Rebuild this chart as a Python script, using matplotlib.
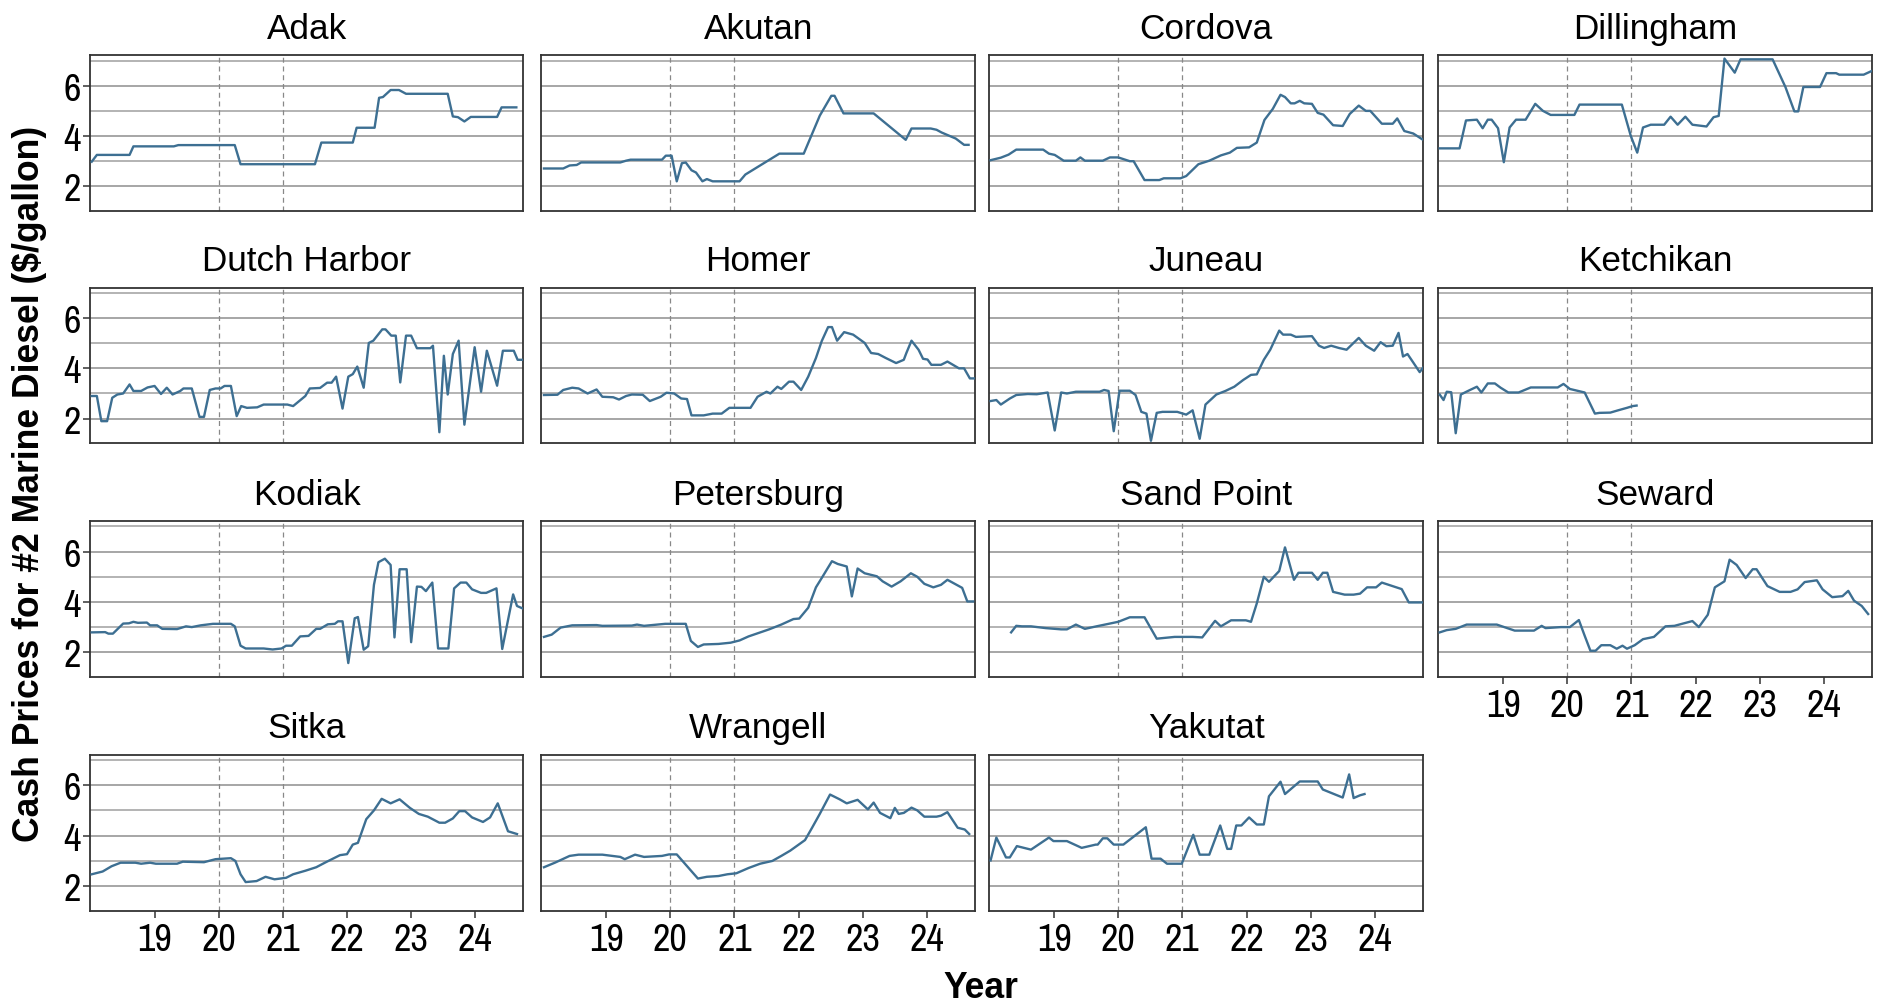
import matplotlib
matplotlib.use("Agg")
import matplotlib.pyplot as plt
from matplotlib import font_manager as fm

# ---------------- data (year, price $/gal) ----------------
adak = [(2018.02, 2.98), (2018.10, 3.25), (2018.61, 3.25), (2018.67, 3.59), (2019.30, 3.59), (2019.37, 3.64),
        (2020.25, 3.64), (2020.34, 2.88), (2021.50, 2.88), (2021.60, 3.74), (2022.09, 3.74), (2022.15, 4.33),
        (2022.43, 4.33), (2022.50, 5.52), (2022.56, 5.55), (2022.68, 5.83), (2022.81, 5.83), (2022.92, 5.68),
        (2023.57, 5.68), (2023.65, 4.78), (2023.73, 4.75), (2023.83, 4.58), (2023.93, 4.76), (2024.34, 4.76),
        (2024.41, 5.14), (2024.64, 5.14)]
akutan = [(2018.03, 2.71), (2018.33, 2.71), (2018.43, 2.83), (2018.54, 2.85), (2018.61, 2.95), (2019.22, 2.95),
          (2019.31, 3.02), (2019.38, 3.06), (2019.87, 3.06), (2019.93, 3.22), (2020.02, 3.22), (2020.10, 2.20),
          (2020.18, 2.92), (2020.24, 2.95), (2020.33, 2.64), (2020.40, 2.55), (2020.50, 2.20), (2020.57, 2.29),
          (2020.66, 2.20), (2021.08, 2.20), (2021.17, 2.47), (2021.70, 3.30), (2022.08, 3.30), (2022.33, 4.81),
          (2022.51, 5.60), (2022.56, 5.60), (2022.70, 4.90), (2023.17, 4.90), (2023.67, 3.85), (2023.76, 4.30),
          (2024.06, 4.30), (2024.15, 4.25), (2024.23, 4.14), (2024.45, 3.90), (2024.58, 3.65), (2024.65, 3.65)]
cordova = [(2018.01, 3.04), (2018.17, 3.14), (2018.29, 3.26), (2018.41, 3.46), (2018.83, 3.46), (2018.92, 3.30),
           (2019.01, 3.25), (2019.15, 3.02), (2019.34, 3.02), (2019.41, 3.15), (2019.48, 3.02), (2019.76, 3.02),
           (2019.87, 3.15), (2020.00, 3.15), (2020.18, 3.00), (2020.24, 3.00), (2020.41, 2.25), (2020.64, 2.25),
           (2020.71, 2.32), (2020.97, 2.32), (2021.06, 2.41), (2021.25, 2.88), (2021.42, 3.02), (2021.60, 3.23),
           (2021.74, 3.34), (2021.85, 3.53), (2022.04, 3.55), (2022.16, 3.74), (2022.28, 4.64), (2022.41, 5.08),
           (2022.53, 5.64), (2022.60, 5.55), (2022.69, 5.30), (2022.75, 5.30), (2022.83, 5.40), (2022.90, 5.30),
           (2023.02, 5.28), (2023.11, 4.92), (2023.20, 4.85), (2023.35, 4.43), (2023.50, 4.40), (2023.61, 4.88),
           (2023.75, 5.21), (2023.86, 5.00), (2023.93, 5.00), (2024.11, 4.49), (2024.28, 4.49), (2024.35, 4.70),
           (2024.46, 4.20), (2024.60, 4.10), (2024.74, 3.87)]
dillingham = [(2018.01, 3.51), (2018.32, 3.51), (2018.42, 4.62), (2018.59, 4.65), (2018.68, 4.31), (2018.76, 4.65),
              (2018.82, 4.65), (2018.92, 4.31), (2019.01, 2.96), (2019.10, 4.34), (2019.20, 4.65), (2019.35, 4.65),
              (2019.50, 5.28), (2019.62, 5.00), (2019.74, 4.84), (2020.11, 4.84), (2020.19, 5.25), (2020.85, 5.25),
              (2020.99, 4.00), (2021.09, 3.34), (2021.18, 4.34), (2021.30, 4.45), (2021.51, 4.45), (2021.61, 4.77),
              (2021.72, 4.45), (2021.84, 4.77), (2021.95, 4.45), (2022.17, 4.38), (2022.28, 4.75), (2022.36, 4.80),
              (2022.45, 7.08), (2022.61, 6.52), (2022.70, 7.05), (2023.20, 7.05), (2023.40, 5.95), (2023.54, 4.98),
              (2023.60, 4.98), (2023.68, 5.95), (2023.94, 5.95), (2024.04, 6.50), (2024.19, 6.50), (2024.24, 6.44),
              (2024.62, 6.44), (2024.74, 6.58)]
dutch_harbor = [(2018.02, 2.90), (2018.10, 2.90), (2018.17, 1.90), (2018.26, 1.90), (2018.34, 2.83), (2018.42, 2.96),
                (2018.51, 3.00), (2018.61, 3.36), (2018.67, 3.10), (2018.79, 3.10), (2018.89, 3.24), (2019.00, 3.30),
                (2019.10, 2.98), (2019.19, 3.23), (2019.28, 2.96), (2019.40, 3.10), (2019.45, 3.20), (2019.58, 3.20),
                (2019.70, 2.07), (2019.77, 2.07), (2019.86, 3.14), (2019.95, 3.20), (2020.03, 3.20), (2020.09, 3.30),
                (2020.19, 3.30), (2020.28, 2.10), (2020.35, 2.50), (2020.44, 2.43), (2020.60, 2.45), (2020.70, 2.56),
                (2021.07, 2.56), (2021.16, 2.50), (2021.35, 2.90), (2021.42, 3.20), (2021.58, 3.22), (2021.69, 3.43),
                (2021.76, 3.43), (2021.83, 3.67), (2021.93, 2.40), (2022.02, 3.67), (2022.09, 3.77), (2022.16, 4.07),
                (2022.26, 3.23), (2022.34, 5.01), (2022.41, 5.10), (2022.55, 5.55), (2022.60, 5.55), (2022.69, 5.30),
                (2022.76, 5.30), (2022.83, 3.44), (2022.92, 5.30), (2023.00, 5.30), (2023.09, 4.80), (2023.30, 4.80),
                (2023.34, 4.90), (2023.44, 1.46), (2023.51, 4.50), (2023.57, 2.96), (2023.65, 4.57), (2023.74, 5.10),
                (2023.83, 1.76), (2023.99, 4.84), (2024.09, 3.07), (2024.18, 4.70), (2024.34, 3.31), (2024.43, 4.70),
                (2024.60, 4.70), (2024.66, 4.34), (2024.74, 4.34)]
homer = [(2018.03, 2.94), (2018.24, 2.95), (2018.33, 3.14), (2018.47, 3.23), (2018.57, 3.20), (2018.71, 3.00),
         (2018.85, 3.16), (2018.94, 2.87), (2019.11, 2.85), (2019.20, 2.76), (2019.31, 2.90), (2019.40, 2.96),
         (2019.57, 2.95), (2019.68, 2.70), (2019.85, 2.87), (2019.94, 3.03), (2020.06, 3.00), (2020.17, 2.80),
         (2020.26, 2.78), (2020.33, 2.13), (2020.52, 2.13), (2020.66, 2.20), (2020.80, 2.20), (2020.92, 2.43),
         (2021.25, 2.43), (2021.36, 2.87), (2021.50, 3.07), (2021.56, 3.00), (2021.67, 3.27), (2021.73, 3.18),
         (2021.85, 3.47), (2021.92, 3.47), (2022.04, 3.14), (2022.15, 3.67), (2022.27, 4.41), (2022.36, 5.08),
         (2022.46, 5.64), (2022.52, 5.64), (2022.60, 5.10), (2022.71, 5.44), (2022.85, 5.34), (2023.03, 5.01),
         (2023.13, 4.61), (2023.24, 4.57), (2023.36, 4.41), (2023.52, 4.21), (2023.64, 4.34), (2023.68, 4.61),
         (2023.76, 5.10), (2023.87, 4.74), (2023.94, 4.38), (2024.01, 4.35), (2024.07, 4.14), (2024.22, 4.14),
         (2024.32, 4.27), (2024.50, 4.00), (2024.58, 4.00), (2024.67, 3.60), (2024.74, 3.60)]
juneau = [(2018.01, 2.70), (2018.10, 2.74), (2018.17, 2.56), (2018.31, 2.80), (2018.41, 2.94), (2018.59, 2.98),
          (2018.73, 2.97), (2018.90, 3.04), (2019.01, 1.53), (2019.11, 3.04), (2019.20, 3.00), (2019.34, 3.07),
          (2019.71, 3.07), (2019.78, 3.14), (2019.85, 3.10), (2019.93, 1.50), (2020.02, 3.11), (2020.18, 3.11),
          (2020.27, 2.94), (2020.36, 2.27), (2020.44, 2.20), (2020.51, 1.12), (2020.60, 2.23), (2020.69, 2.27),
          (2020.92, 2.27), (2021.06, 2.16), (2021.16, 2.33), (2021.27, 1.20), (2021.36, 2.56), (2021.53, 2.96),
          (2021.67, 3.10), (2021.81, 3.27), (2021.95, 3.54), (2022.07, 3.74), (2022.16, 3.76), (2022.27, 4.34),
          (2022.37, 4.74), (2022.51, 5.50), (2022.57, 5.34), (2022.69, 5.34), (2022.77, 5.25), (2023.02, 5.28),
          (2023.13, 4.90), (2023.21, 4.81), (2023.32, 4.90), (2023.44, 4.81), (2023.56, 4.74), (2023.75, 5.21),
          (2023.86, 4.90), (2023.99, 4.70), (2024.09, 5.04), (2024.18, 4.88), (2024.28, 4.90), (2024.37, 5.41),
          (2024.44, 4.47), (2024.51, 4.57), (2024.60, 4.23), (2024.70, 3.85), (2024.76, 4.05)]
ketchikan = [(2018.01, 2.96), (2018.07, 2.74), (2018.12, 3.07), (2018.19, 3.05), (2018.26, 1.42), (2018.34, 2.96),
             (2018.45, 3.10), (2018.59, 3.27), (2018.66, 3.04), (2018.76, 3.40), (2018.87, 3.40), (2018.96, 3.23),
             (2019.08, 3.04), (2019.24, 3.04), (2019.43, 3.24), (2019.85, 3.24), (2019.94, 3.38), (2020.04, 3.18),
             (2020.27, 3.04), (2020.43, 2.20), (2020.50, 2.23), (2020.67, 2.24), (2020.79, 2.33), (2020.93, 2.43),
             (2021.02, 2.50), (2021.08, 2.52)]
kodiak = [(2018.02, 2.79), (2018.23, 2.80), (2018.28, 2.74), (2018.35, 2.74), (2018.51, 3.14), (2018.60, 3.15),
          (2018.67, 3.21), (2018.74, 3.17), (2018.88, 3.18), (2018.93, 3.07), (2019.04, 3.07), (2019.12, 2.93),
          (2019.35, 2.92), (2019.49, 3.03), (2019.58, 3.00), (2019.72, 3.07), (2019.91, 3.13), (2020.19, 3.13),
          (2020.25, 3.03), (2020.34, 2.26), (2020.42, 2.15), (2020.70, 2.15), (2020.84, 2.11), (2020.98, 2.15),
          (2021.05, 2.26), (2021.14, 2.26), (2021.27, 2.63), (2021.40, 2.65), (2021.52, 2.93), (2021.58, 2.93),
          (2021.70, 3.11), (2021.81, 3.13), (2021.86, 3.23), (2021.93, 3.23), (2022.02, 1.57), (2022.12, 3.35),
          (2022.17, 3.40), (2022.26, 2.10), (2022.33, 2.24), (2022.42, 4.68), (2022.49, 5.58), (2022.59, 5.72),
          (2022.68, 5.47), (2022.74, 2.59), (2022.82, 5.30), (2022.93, 5.30), (2023.00, 2.40), (2023.09, 4.61),
          (2023.16, 4.60), (2023.23, 4.43), (2023.33, 4.77), (2023.42, 2.15), (2023.58, 2.15), (2023.67, 4.54),
          (2023.77, 4.77), (2023.86, 4.77), (2023.95, 4.50), (2024.09, 4.36), (2024.17, 4.36), (2024.33, 4.54),
          (2024.42, 2.13), (2024.59, 4.30), (2024.65, 3.84), (2024.74, 3.74)]
petersburg = [(2018.03, 2.61), (2018.15, 2.70), (2018.29, 2.98), (2018.47, 3.07), (2018.85, 3.08), (2018.94, 3.05),
              (2019.40, 3.06), (2019.48, 3.10), (2019.59, 3.05), (2019.92, 3.13), (2020.24, 3.13), (2020.32, 2.45),
              (2020.43, 2.21), (2020.52, 2.31), (2020.75, 2.33), (2020.94, 2.38), (2021.08, 2.47), (2021.22, 2.63),
              (2021.38, 2.77), (2021.54, 2.91), (2021.73, 3.10), (2021.92, 3.32), (2022.01, 3.34), (2022.15, 3.77),
              (2022.27, 4.58), (2022.36, 4.95), (2022.52, 5.62), (2022.61, 5.51), (2022.75, 5.41), (2022.83, 4.22),
              (2022.92, 5.33), (2023.03, 5.14), (2023.22, 5.02), (2023.31, 4.82), (2023.45, 4.61), (2023.59, 4.82),
              (2023.75, 5.14), (2023.85, 5.00), (2023.96, 4.72), (2024.10, 4.58), (2024.22, 4.68), (2024.32, 4.88),
              (2024.55, 4.56), (2024.63, 4.02), (2024.72, 4.02)]
sand_point = [(2018.33, 2.79), (2018.41, 3.05), (2018.50, 3.03), (2018.64, 3.03), (2018.87, 2.96), (2019.11, 2.91),
              (2019.20, 2.91), (2019.34, 3.10), (2019.48, 2.93), (2019.66, 3.03), (2019.85, 3.13), (2020.00, 3.21),
              (2020.18, 3.39), (2020.41, 3.39), (2020.60, 2.54), (2020.88, 2.61), (2021.16, 2.61), (2021.31, 2.59),
              (2021.51, 3.25), (2021.60, 3.03), (2021.76, 3.27), (2021.99, 3.27), (2022.07, 3.21), (2022.16, 3.94),
              (2022.27, 5.00), (2022.35, 4.80), (2022.51, 5.23), (2022.60, 6.17), (2022.74, 4.88), (2022.81, 5.16),
              (2023.02, 5.16), (2023.11, 4.88), (2023.19, 5.16), (2023.26, 5.16), (2023.35, 4.40), (2023.53, 4.29),
              (2023.67, 4.29), (2023.77, 4.33), (2023.88, 4.58), (2024.02, 4.58), (2024.11, 4.77), (2024.42, 4.51),
              (2024.53, 3.98), (2024.74, 3.98)]
seward = [(2018.01, 2.79), (2018.12, 2.88), (2018.26, 2.93), (2018.43, 3.10), (2018.90, 3.10), (2019.18, 2.86),
          (2019.48, 2.86), (2019.60, 3.05), (2019.66, 2.96), (2019.90, 3.00), (2020.04, 3.00), (2020.18, 3.28),
          (2020.27, 2.66), (2020.36, 2.06), (2020.44, 2.06), (2020.53, 2.28), (2020.67, 2.28), (2020.77, 2.14),
          (2020.86, 2.26), (2020.93, 2.14), (2021.05, 2.28), (2021.18, 2.52), (2021.35, 2.61), (2021.53, 3.03),
          (2021.67, 3.05), (2021.95, 3.24), (2022.05, 3.00), (2022.19, 3.49), (2022.30, 4.58), (2022.45, 4.82),
          (2022.53, 5.68), (2022.64, 5.47), (2022.78, 4.95), (2022.89, 5.30), (2022.95, 5.30), (2023.12, 4.63),
          (2023.31, 4.40), (2023.48, 4.40), (2023.59, 4.50), (2023.70, 4.79), (2023.89, 4.86), (2023.98, 4.50),
          (2024.13, 4.19), (2024.29, 4.23), (2024.38, 4.44), (2024.47, 4.05), (2024.59, 3.84), (2024.69, 3.52)]
sitka = [(2018.02, 2.46), (2018.19, 2.57), (2018.33, 2.78), (2018.47, 2.92), (2018.70, 2.92), (2018.79, 2.88),
         (2018.93, 2.92), (2019.02, 2.88), (2019.35, 2.88), (2019.44, 2.96), (2019.77, 2.94), (2019.95, 3.06),
         (2020.19, 3.10), (2020.26, 2.99), (2020.34, 2.46), (2020.42, 2.15), (2020.59, 2.19), (2020.73, 2.36),
         (2020.87, 2.26), (2021.05, 2.32), (2021.16, 2.46), (2021.35, 2.60), (2021.52, 2.74), (2021.67, 2.94),
         (2021.89, 3.22), (2022.00, 3.26), (2022.09, 3.64), (2022.17, 3.71), (2022.30, 4.65), (2022.42, 5.00),
         (2022.54, 5.46), (2022.68, 5.28), (2022.82, 5.44), (2022.98, 5.10), (2023.12, 4.86), (2023.26, 4.75),
         (2023.44, 4.51), (2023.53, 4.51), (2023.65, 4.68), (2023.75, 4.97), (2023.84, 4.97), (2023.95, 4.72),
         (2024.12, 4.54), (2024.23, 4.72), (2024.35, 5.28), (2024.51, 4.17), (2024.65, 4.06)]
wrangell = [(2018.03, 2.74), (2018.20, 2.92), (2018.43, 3.19), (2018.57, 3.24), (2018.94, 3.24), (2019.22, 3.15),
            (2019.29, 3.06), (2019.45, 3.24), (2019.59, 3.15), (2019.87, 3.19), (2019.98, 3.25), (2020.10, 3.25),
            (2020.43, 2.29), (2020.57, 2.36), (2020.75, 2.39), (2020.89, 2.46), (2021.03, 2.50), (2021.22, 2.71),
            (2021.40, 2.88), (2021.59, 2.99), (2021.73, 3.19), (2021.87, 3.40), (2022.10, 3.82), (2022.21, 4.31),
            (2022.33, 4.86), (2022.49, 5.63), (2022.64, 5.44), (2022.75, 5.28), (2022.92, 5.42), (2023.08, 5.04),
            (2023.17, 5.31), (2023.27, 4.90), (2023.43, 4.69), (2023.50, 5.10), (2023.56, 4.86), (2023.64, 4.90),
            (2023.76, 5.11), (2023.85, 5.00), (2023.96, 4.75), (2024.15, 4.75), (2024.22, 4.79), (2024.32, 4.93),
            (2024.48, 4.31), (2024.59, 4.24), (2024.66, 4.06)]
yakutat = [(2018.01, 3.01), (2018.10, 3.92), (2018.25, 3.13), (2018.31, 3.13), (2018.42, 3.58), (2018.64, 3.44),
           (2018.78, 3.68), (2018.92, 3.92), (2018.99, 3.78), (2019.20, 3.78), (2019.43, 3.51), (2019.65, 3.64),
           (2019.68, 3.64), (2019.76, 3.89), (2019.83, 3.89), (2019.93, 3.64), (2020.08, 3.64), (2020.43, 4.33),
           (2020.52, 3.08), (2020.66, 3.08), (2020.76, 2.88), (2020.99, 2.88), (2021.17, 4.03), (2021.27, 3.24),
           (2021.42, 3.24), (2021.59, 4.40), (2021.70, 3.47), (2021.76, 3.47), (2021.84, 4.40), (2021.92, 4.40),
           (2022.04, 4.72), (2022.16, 4.44), (2022.27, 4.44), (2022.35, 5.56), (2022.53, 6.14), (2022.60, 5.65),
           (2022.83, 6.15), (2023.11, 6.15), (2023.19, 5.83), (2023.50, 5.51), (2023.60, 6.43), (2023.67, 5.49),
           (2023.77, 5.60), (2023.84, 5.65)]

ports = ["Adak", "Akutan", "Cordova", "Dillingham", "Dutch Harbor", "Homer", "Juneau", "Ketchikan",
         "Kodiak", "Petersburg", "Sand Point", "Seward", "Sitka", "Wrangell", "Yakutat"]
series = [adak, akutan, cordova, dillingham, dutch_harbor, homer, juneau, ketchikan,
          kodiak, petersburg, sand_point, seward, sitka, wrangell, yakutat]
year_ticks = [2019, 2020, 2021, 2022, 2023, 2024]
year_labels = ["19", "20", "21", "22", "23", "24"]
price_ticks = [2, 4, 6]
price_minor = [3, 5, 7]
covid_years = [2020, 2021]

# ---------------- fonts ----------------
available = {f.name for f in fm.fontManager.ttflist}
narrow = "Archivo Narrow" if "Archivo Narrow" in available else "Liberation Sans"
tick_size = 27.5 if narrow == "Archivo Narrow" else 25.2
title_font = "Liberation Sans"
title_size = 25.3
bold_font = "Liberation Sans"

W, H = 1878, 1004
fig = plt.figure(figsize=(W / 100, H / 100), dpi=100)
fig.patch.set_facecolor("white")

col_left = [89.8, 541.4, 989.3, 1438.4]
panel_w = 433.6
row_top = [56.3, 288.6, 522.2, 755.8]
panel_h = 155.7

line_color = "#3d6f92"
grid_color = "#9f9f9f"
frame_color = "#333333"

bottom_in_col = {0: 3, 1: 3, 2: 3, 3: 2}

for i, (name, data) in enumerate(zip(ports, series)):
    r, c = divmod(i, 4)
    ax = fig.add_axes([col_left[c] / W, 1 - (row_top[r] + panel_h) / H, panel_w / W, panel_h / H])
    xs = [p[0] for p in data]
    ys = [p[1] for p in data]
    ax.set_xlim(2017.99, 2024.75)
    ax.set_ylim(1.02, 7.21)
    ax.set_yticks(price_ticks)
    ax.set_yticks(price_minor, minor=True)
    ax.set_xticks(year_ticks)
    ax.grid(axis="y", which="major", color=grid_color, lw=1.3, zorder=0)
    ax.grid(axis="y", which="minor", color=grid_color, lw=1.1, zorder=0)
    ax.set_axisbelow(True)
    for yv in covid_years:
        ax.axvline(yv, color="#888888", lw=0.9, ls=(0, (4, 3)), zorder=1)
    ax.plot(xs, ys, color=line_color, lw=1.7, zorder=3, solid_joinstyle="round")
    for sp in ax.spines.values():
        sp.set_color(frame_color)
        sp.set_linewidth(1.3)
    ax.tick_params(which="minor", length=0)
    ax.tick_params(which="major", direction="out", length=5, width=1.1, color=frame_color,
                   labelsize=tick_size, labelcolor="black")
    if r == bottom_in_col[c]:
        ax.set_xticklabels(year_labels, fontfamily=narrow)
        ax.tick_params(axis="x", pad=3)
    else:
        ax.tick_params(axis="x", length=0, labelbottom=False)
    if c == 0:
        ax.set_yticklabels([str(v) for v in price_ticks], fontfamily=narrow)
        ax.tick_params(axis="y", pad=1.5)
    else:
        ax.tick_params(axis="y", length=0, labelleft=False)
    ax.text(0.5, 1.112, name, transform=ax.transAxes, ha="center", va="baseline",
            fontsize=title_size, fontfamily=title_font, color="black")

fig.text(30 / W, 1 - 484 / H, "Cash Prices for #2 Marine Diesel ($/gallon)", rotation=90,
         ha="center", va="center", fontsize=25.6, fontweight="bold", fontfamily=bold_font)
fig.text(981 / W, 1 - 998 / H, "Year", ha="center", va="baseline",
         fontsize=25.6, fontweight="bold", fontfamily=bold_font)

fig.savefig("out.png", dpi=100, facecolor="white")
